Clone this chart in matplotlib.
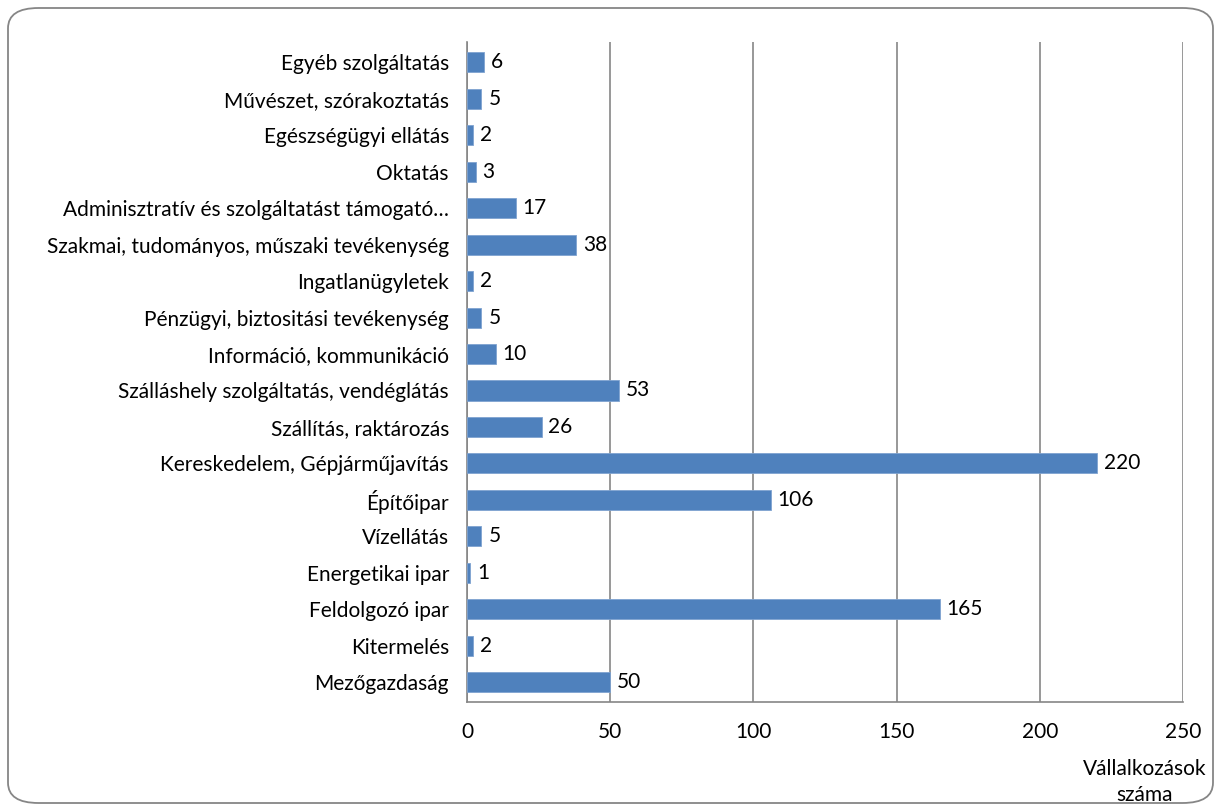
import matplotlib.pyplot as plt
from matplotlib.patches import FancyBboxPatch

# categories from bottom to top
categories = ['Mezőgazdaság', 'Kitermelés', 'Feldolgozó ipar', 'Energetikai ipar',
              'Vízellátás', 'Építőipar', 'Kereskedelem, Gépjárműjavítás',
              'Szállítás, raktározás', 'Szálláshely szolgáltatás, vendéglátás',
              'Információ, kommunikáció', 'Pénzügyi, biztositási tevékenység',
              'Ingatlanügyletek', 'Szakmai, tudományos, műszaki tevékenység',
              'Adminisztratív és szolgáltatást támogató…', 'Oktatás',
              'Egészségügyi ellátás', 'Művészet, szórakoztatás', 'Egyéb szolgáltatás']
values = [50, 2, 165, 1, 5, 106, 220, 26, 53, 10, 5, 2, 38, 17, 3, 2, 5, 6]
x_ticks = [0, 50, 100, 150, 200, 250]

fs = 15
plt.rcParams['font.family'] = ['Lato', 'DejaVu Sans']
fig = plt.figure(figsize=(12.21, 8.11), dpi=100)
ax = fig.add_axes([0.3825, 0.134, 0.969 - 0.3825, 0.948 - 0.134])

pos = list(range(len(categories)))
ax.barh(pos, values, height=0.55, color='#4F81BD', edgecolor='#7FA3D0', linewidth=0.6, zorder=3)
for p, v in zip(pos, values):
    ax.annotate(str(v), (v, p), xytext=(5, 0), textcoords='offset points',
                va='center', ha='left', fontsize=fs)

ax.set_xlim(0, 250)
ax.set_ylim(-0.55, len(categories) - 0.45)
ax.set_xticks(x_ticks)
ax.set_yticks(pos)
ax.set_yticklabels(categories, fontsize=fs)
ax.tick_params(axis='x', labelsize=fs, length=0, pad=14)
ax.tick_params(axis='y', length=0, pad=13)
ax.grid(axis='x', color='#868686', linewidth=1.2, zorder=0)
for s in ['top', 'right']:
    ax.spines[s].set_visible(False)
for s in ['left', 'bottom']:
    ax.spines[s].set_color('#868686')
    ax.spines[s].set_linewidth(1.2)

fig.text(1145 / 1221, 1 - 782 / 811, 'Vállalkozások\nszáma', ha='center', va='center',
         fontsize=fs, linespacing=1.35)

border = FancyBboxPatch((8 / 1221, 8 / 811), 1205 / 1221, 795 / 811,
                        boxstyle='round,pad=0,rounding_size=0.025',
                        transform=fig.transFigure, fill=False,
                        edgecolor='#868686', linewidth=1.3)
fig.patches.append(border)

fig.savefig('out.png', dpi=100)
